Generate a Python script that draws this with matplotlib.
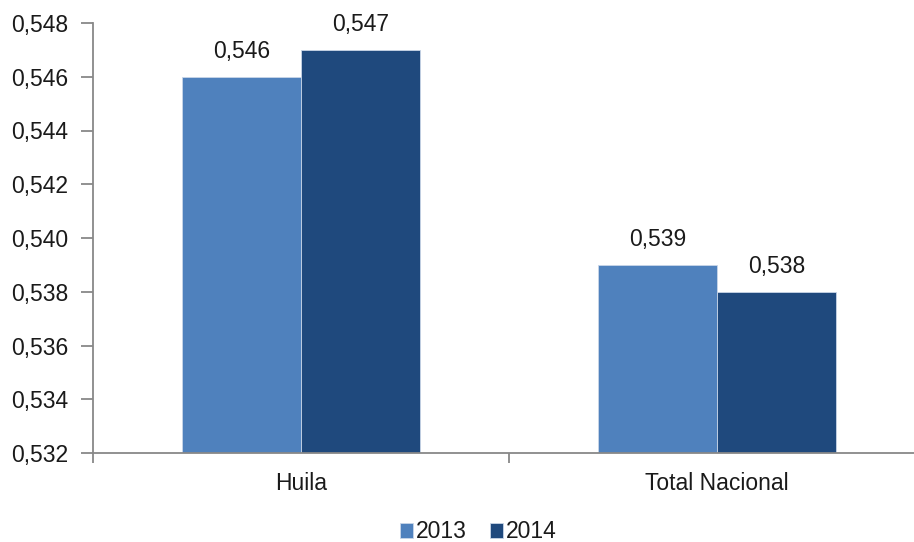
import matplotlib
matplotlib.use("Agg")
import matplotlib.pyplot as plt
from matplotlib.ticker import FuncFormatter, FixedLocator

categories = ["Huila", "Total Nacional"]
series_names = ["2013", "2014"]
values_2013 = [0.546, 0.539]
values_2014 = [0.547, 0.538]
colors = ["#4F81BD", "#1F497D"]
yticks = [0.532, 0.534, 0.536, 0.538, 0.540, 0.542, 0.544, 0.546, 0.548]

plt.rcParams['font.family'] = ['Liberation Sans', 'DejaVu Sans']

fig = plt.figure(figsize=(9.14, 5.42), dpi=100)
ax = fig.add_axes([93/914, 89/542, 832/914, 430/542])

w = 0.287
x = list(range(len(categories)))
series = [values_2013, values_2014]
offsets = [-w/2, w/2]
for vals, name, col, off in zip(series, series_names, colors, offsets):
    xs = [xi + off for xi in x]
    ax.bar(xs, [v - yticks[0] for v in vals], bottom=yticks[0], width=w,
           color=col, edgecolor="#c9d6e8", linewidth=0.6, label=name, zorder=2)
    for xi, v in zip(xs, vals):
        ax.annotate(f"{v:.3f}".replace(".", ","), (xi, v), xytext=(0, 10),
                    textcoords="offset points", ha="center", va="bottom",
                    fontsize=16.5, color="#1a1a1a")

ax.set_ylim(yticks[0], yticks[-1])
ax.set_yticks(yticks)
ax.yaxis.set_major_formatter(FuncFormatter(lambda v, p: f"{v:.3f}".replace(".", ",")))
ax.set_xlim(-0.5, 1.5)
ax.xaxis.set_major_locator(FixedLocator([-0.5, 0.5, 1.5]))
ax.xaxis.set_major_formatter(FuncFormatter(lambda v, p: ""))
ax.xaxis.set_minor_locator(FixedLocator(x))
ax.set_xticklabels(categories, minor=True)

spine_col = "#888888"
for s in ["top", "right"]:
    ax.spines[s].set_visible(False)
for s in ["left", "bottom"]:
    ax.spines[s].set_color(spine_col)
    ax.spines[s].set_linewidth(1.3)

ax.tick_params(axis="y", which="major", length=9, width=1.3, color=spine_col,
               labelsize=16.5, labelcolor="#1a1a1a", pad=9)
ax.tick_params(axis="x", which="major", length=7, width=1.3, color=spine_col)
ax.tick_params(axis="x", which="minor", length=0, labelsize=16.5,
               labelcolor="#1a1a1a", pad=14)

leg = fig.legend(loc="center", bbox_to_anchor=(478/914, 1 - 532/542), ncol=2,
                 frameon=False, fontsize=16.5, handlelength=0.6, handleheight=0.6,
                 handletextpad=0.1, columnspacing=1.0)
for t in leg.get_texts():
    t.set_color("#1a1a1a")

fig.savefig("out.png", dpi=100)
